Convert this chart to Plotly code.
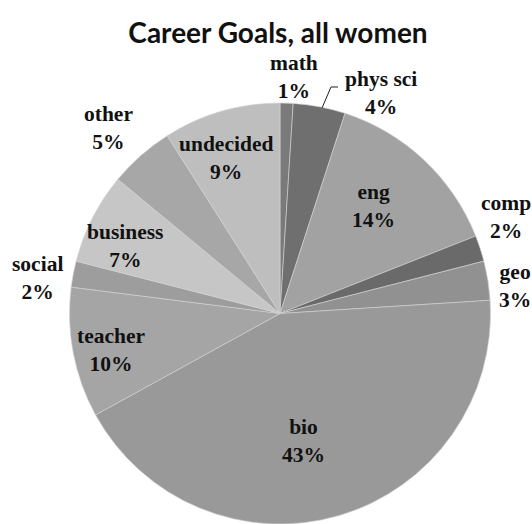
import plotly.graph_objects as go

# Career goal categories, clockwise from 12 o'clock
labels = ["math", "phys sci", "eng", "comp", "geo", "bio",
          "teacher", "social", "business", "other", "undecided"]
shares = [1, 4, 14, 2, 3, 43, 10, 2, 7, 5, 9]

# Grayscale fills per slice
fills = ["#7a7a7a", "#6f6f6f", "#a2a2a2", "#6a6a6a", "#919191", "#999999",
         "#a5a5a5", "#9d9d9d", "#c6c6c6", "#a7a7a7", "#bebebe"]

# Label block centres in pixels (x, y from top-left)
label_xy = [(294, 77), (381, 93), (373, 206), (506, 217), (515, 286), (303, 441),
            (111, 350), (37, 278), (125, 246), (108, 128), (226, 158)]

W, H = 532, 524
cx, cy, r = 280, 314, 211

fig = go.Figure(go.Pie(
    labels=labels,
    values=shares,
    sort=False,
    direction="clockwise",
    rotation=0,
    marker=dict(colors=fills, line=dict(color="#d4d4d4", width=0.6)),
    textinfo="none",
    showlegend=False,
    hoverinfo="skip",
    domain=dict(x=[(cx - r) / W, (cx + r) / W],
                y=[max(0, (H - cy - r) / H), (H - cy + r) / H]),
))

# Category name and share written beside / inside each slice
for name, pct, (px, py) in zip(labels, shares, label_xy):
    fig.add_annotation(
        x=px / W, y=1 - py / H, xref="paper", yref="paper",
        text=f"<b>{name}</b><br><b>{pct}%</b>",
        showarrow=False, xanchor="center", yanchor="middle",
        font=dict(family="Liberation Serif", size=21.5, color="#111111"),
    )

# Leader line for the phys sci label
pts = [(322, 108), (331, 87), (338, 87)]
path = "M " + " L ".join(f"{x / W},{1 - y / H}" for x, y in pts)
fig.add_shape(type="path", path=path, xref="paper", yref="paper",
              line=dict(color="#222222", width=1))

fig.update_layout(
    width=W, height=H,
    margin=dict(l=0, r=0, t=0, b=0),
    paper_bgcolor="white",
    title=dict(text="<b>Career Goals, all women</b>", x=278 / W, xanchor="center",
               y=1 - 33 / H, yanchor="middle",
               font=dict(family="Lato", size=28, color="#111111")),
)

fig.write_html("out.html")
